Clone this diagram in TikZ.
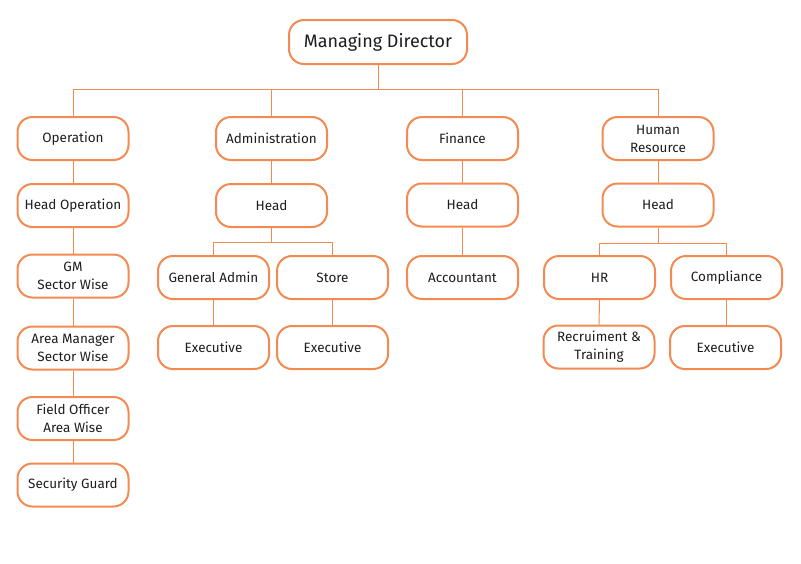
\documentclass[tikz,border=0pt]{standalone}
\usepackage{fontspec}
\setmainfont{Fira Sans}
\definecolor{boxorange}{HTML}{F28A52}
\definecolor{txt}{HTML}{1E1E1E}
\begin{document}
\begin{tikzpicture}[x=1pt,y=-1pt,
  orgbox/.style={draw=boxorange, line width=2pt, rounded corners=15pt, fill=white,
    minimum width=111pt, minimum height=43pt, inner sep=2pt, align=center, text=txt,
    font=\fontsize{13.5}{18}\selectfont},
  link/.style={draw=boxorange, line width=1pt}]
\useasboundingbox (0,0) rectangle (801,563);
\node[orgbox, minimum width=178pt, minimum height=44pt, font=\fontsize{18}{20}\selectfont] (md) at (378,42) {Managing Director};
\node[orgbox] (op) at (73,138.5) {Operation};
\node[orgbox] (hop) at (73,205.5) {Head Operation};
\node[orgbox] (gm) at (73,276) {GM\\Sector Wise};
\node[orgbox] (am) at (73,348) {Area Manager\\Sector Wise};
\node[orgbox] (fo) at (73,418.5) {Field Officer\\Area Wise};
\node[orgbox] (sg) at (73,485) {Security Guard};
\node[orgbox] (adm) at (271.5,138.5) {Administration};
\node[orgbox] (ahead) at (271.5,205.5) {Head};
\node[orgbox] (ga) at (213.5,277.5) {General Admin};
\node[orgbox] (st) at (332.5,277.5) {Store};
\node[orgbox] (ex1) at (213.5,347.5) {Executive};
\node[orgbox] (ex2) at (332.5,347.5) {Executive};
\node[orgbox] (fin) at (462.5,138.5) {Finance};
\node[orgbox] (fhead) at (462.5,205) {Head};
\node[orgbox] (acc) at (462.5,277.5) {Accountant};
\node[orgbox] (hrr) at (658,138.5) {Human\\Resource};
\node[orgbox] (hhead) at (658,205) {Head};
\node[orgbox] (hr) at (599.5,277.5) {HR};
\node[orgbox] (comp) at (726.5,277.5) {Compliance};
\node[orgbox] (rt) at (599,347) {Recruiment \&\\Training};
\node[orgbox] (ex3) at (725.5,347.5) {Executive};
\coordinate (bus) at (0,89);
\coordinate (abus) at (0,242);
\coordinate (hbus) at (0,243);
\path[link] (md.south) -- (md.south|-bus);
\path[link] (op.north) |- (hrr.north|-bus) -- (hrr.north);
\path[link] (adm.north) -- (adm.north|-bus);
\path[link] (fin.north) -- (fin.north|-bus);
\path[link] (op) -- (hop);
\path[link] (hop) -- (gm);
\path[link] (gm) -- (am);
\path[link] (am) -- (fo);
\path[link] (fo) -- (sg);
\path[link] (adm) -- (ahead);
\path[link] (ahead.south) -- (ahead.south|-abus);
\path[link] (ga.north) |- (st.north|-abus) -- (st.north);
\path[link] (ga) -- (ex1);
\path[link] (st) -- (ex2);
\path[link] (fin) -- (fhead);
\path[link] (fhead) -- (acc);
\path[link] (hrr) -- (hhead);
\path[link] (hhead.south) -- (hhead.south|-hbus);
\path[link] (hr.north) |- (comp.north|-hbus) -- (comp.north);
\path[link] (hr) -- (rt);
\path[link] (comp.south) -- (comp.south|-ex3.north);
\end{tikzpicture}
\end{document}
